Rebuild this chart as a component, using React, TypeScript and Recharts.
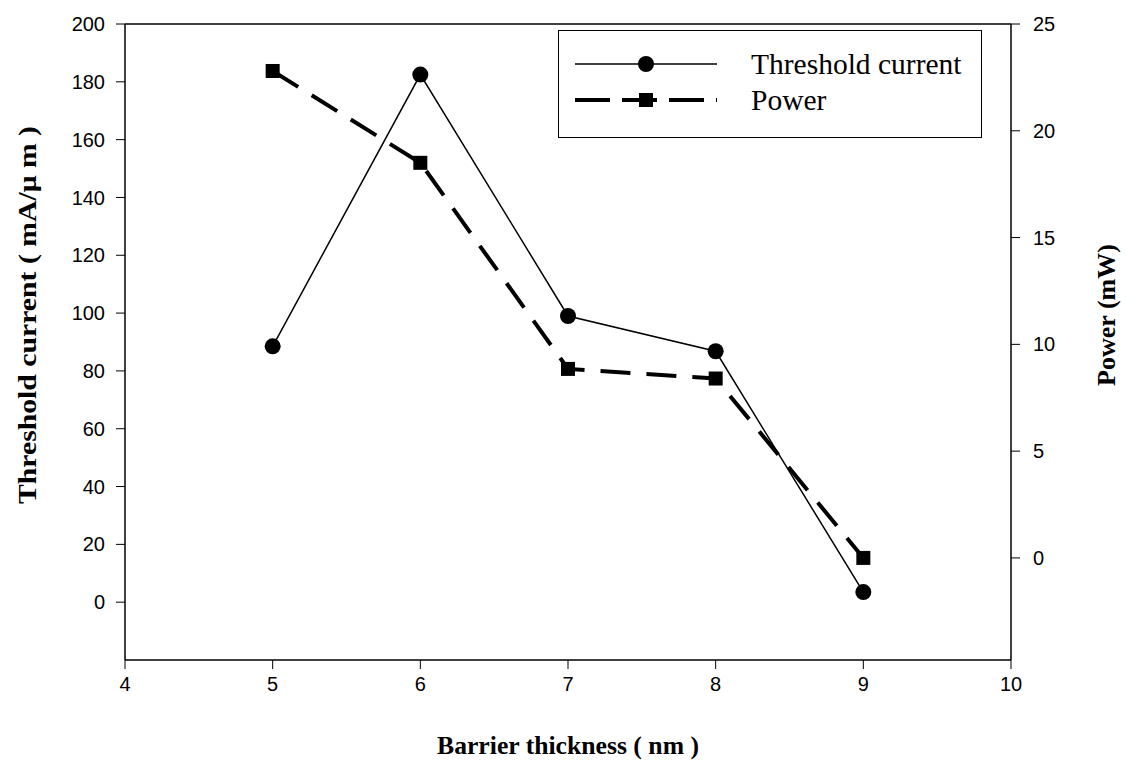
import React from 'react';
import {
  LineChart,
  Line,
  XAxis,
  YAxis,
  Label,
  ReferenceLine,
} from 'recharts';

const thickness = [5, 6, 7, 8, 9];
const thresholdCurrent = [88.5, 182.5, 99, 86.8, 3.5];
const power = [22.8, 18.5, 8.85, 8.4, 0.0];

const xTicks = [4, 5, 6, 7, 8, 9, 10];
const leftTicks = [0, 20, 40, 60, 80, 100, 120, 140, 160, 180, 200];
const rightTicks = [0, 5, 10, 15, 20, 25];

const data = thickness.map((x, i) => ({
  x,
  current: thresholdCurrent[i],
  power: power[i],
}));

const sans = '"Liberation Sans", Arial, sans-serif';
const serif = '"Liberation Serif", "Times New Roman", serif';

const Square = (props: any) => {
  const { cx, cy } = props;
  if (cx == null || cy == null) return null;
  return <rect x={cx - 7} y={cy - 7} width={14} height={14} fill="#000" />;
};

const Circle = (props: any) => {
  const { cx, cy } = props;
  if (cx == null || cy == null) return null;
  return <circle cx={cx} cy={cy} r={8} fill="#000" />;
};

// axis titles, placed from the axis viewBox
const leftTitle = (props: any) => {
  const { x, y, width, height } = props.viewBox;
  const cx = x + width / 2 - 35;
  const cy = y + height / 2 - 27;
  return (
    <text
      x={cx}
      y={cy}
      transform={`rotate(-90 ${cx} ${cy})`}
      textAnchor="middle"
      dominantBaseline="central"
      fontFamily={serif}
      fontSize={26}
      fontWeight="bold"
      fill="#000"
      textLength={378}
      lengthAdjust="spacingAndGlyphs"
    >
      Threshold current ( mA/μ m )
    </text>
  );
};

const rightTitle = (props: any) => {
  const { x, y, width, height } = props.viewBox;
  const cx = x + width - 21;
  const cy = y + height / 2 - 27;
  return (
    <text
      x={cx}
      y={cy}
      transform={`rotate(-90 ${cx} ${cy})`}
      textAnchor="middle"
      dominantBaseline="central"
      fontFamily={serif}
      fontSize={26}
      fontWeight="bold"
      fill="#000"
    >
      Power (mW)
    </text>
  );
};

const bottomTitle = (props: any) => {
  const { x, y, width } = props.viewBox;
  return (
    <text
      x={x + width / 2}
      y={y + 94}
      textAnchor="middle"
      fontFamily={serif}
      fontSize={26}
      fontWeight="bold"
      fill="#000"
      textLength={262}
      lengthAdjust="spacingAndGlyphs"
    >
      Barrier thickness ( nm )
    </text>
  );
};

const LegendBox = () => (
  <svg width={425} height={108} style={{ display: 'block' }}>
    <rect x={0.5} y={0.5} width={423} height={107} fill="#fff" stroke="#000" strokeWidth={1} />
    <line x1={17} y1={34} x2={159} y2={34} stroke="#000" strokeWidth={1.5} />
    <circle cx={88} cy={34} r={8} fill="#000" />
    <text x={193} y={44} fontFamily={serif} fontSize={29.5} fill="#000">
      Threshold current
    </text>
    <line x1={17} y1={70} x2={159} y2={70} stroke="#000" strokeWidth={4} strokeDasharray="35 12" />
    <rect x={81} y={63} width={14} height={14} fill="#000" />
    <text x={193} y={80} fontFamily={serif} fontSize={29.5} fill="#000">
      Power
    </text>
  </svg>
);

const App = () => {
  return (
    <div style={{ position: 'absolute', left: 0, top: 0, width: 1127, height: 761, background: '#fff' }}>
      <LineChart
        width={1127}
        height={761}
        data={data}
        margin={{ top: 24, right: 0, bottom: 0, left: 0 }}
      >
        <XAxis
          dataKey="x"
          type="number"
          domain={[4, 10]}
          ticks={xTicks}
          height={101}
          stroke="#000"
          tickSize={9}
          axisLine={{ stroke: '#000', strokeWidth: 1.5 }}
          tick={{ fill: '#000', fontFamily: sans, fontSize: 20 }}
          tickMargin={8}
        >
          <Label content={bottomTitle} />
        </XAxis>
        <YAxis
          yAxisId="left"
          domain={[-20, 200]}
          ticks={leftTicks}
          allowDataOverflow
          width={125}
          stroke="#000"
          tickSize={9}
          axisLine={{ stroke: '#000', strokeWidth: 1.5 }}
          tick={{ fill: '#000', fontFamily: sans, fontSize: 20 }}
          tickMargin={11}
        >
          <Label content={leftTitle} />
        </YAxis>
        <YAxis
          yAxisId="right"
          orientation="right"
          domain={[-4.78, 25]}
          ticks={rightTicks}
          allowDataOverflow
          width={116}
          stroke="#000"
          tickSize={9}
          axisLine={{ stroke: '#000', strokeWidth: 1.5 }}
          tick={{ fill: '#000', fontFamily: sans, fontSize: 20 }}
          tickMargin={13}
        >
          <Label content={rightTitle} />
        </YAxis>
        <ReferenceLine yAxisId="left" y={200} stroke="#000" strokeWidth={1.5} />
        <Line
          yAxisId="left"
          dataKey="current"
          name="Threshold current"
          stroke="#000"
          strokeWidth={1.5}
          dot={<Circle />}
          activeDot={false}
          isAnimationActive={false}
        />
        <Line
          yAxisId="right"
          dataKey="power"
          name="Power"
          stroke="#000"
          strokeWidth={4}
          strokeDasharray="30 16"
          dot={<Square />}
          activeDot={false}
          isAnimationActive={false}
        />
      </LineChart>
      <div style={{ position: 'absolute', left: 558, top: 30 }}>
        <LegendBox />
      </div>
    </div>
  );
};

export default App;
